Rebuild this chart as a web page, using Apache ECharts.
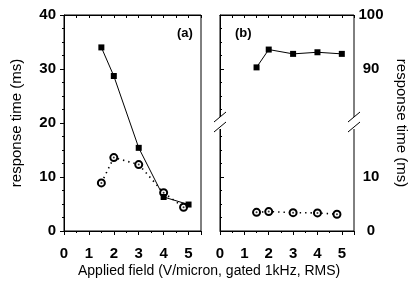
<!DOCTYPE html>
<html>
<head>
<meta charset="utf-8">
<script src="https://cdn.jsdelivr.net/npm/echarts@6/dist/echarts.min.js"></script>
<style>
  html, body { margin: 0; padding: 0; background: #fff; }
  #chart { width: 410px; height: 288px; }
</style>
</head>
<body>
<div id="chart"></div>
<script>
// data
const fieldA = [1.5, 2, 3, 4, 5]
const fieldA2 = [1.5, 2, 3, 4, 4.8]
const squaresA = [34, 28.7, 15.4, 6.3, 4.9]
const circlesA = [8.9, 13.6, 12.3, 7.1, 4.4]

const fieldB = [1.5, 2, 3, 4, 5]
const fieldB2 = [1.5, 2, 3, 4, 4.8]
const squaresB = [90.3, 93.6, 92.8, 93.1, 92.8]
const circlesB = [3.45, 3.6, 3.4, 3.35, 3.1]

const xTicks = [0, 1, 2, 3, 4, 5]
const yTicksA = [0, 10, 20, 30, 40]
const yTicksB = [0, 10, 90, 100]

// right panel has a broken axis: values above the break are shifted down by this much
const breakShift = 60
const breakAt = 20

const font = 'Liberation Sans, Arial, Helvetica, sans-serif'

const pair = (xs, ys, shift) => xs.map((x, i) => [x, ys[i] - (shift || 0)])

function bottomAxis(gridIndex) {
  return {
    type: 'value', gridIndex, position: 'bottom',
    min: 0, max: 5.5, interval: 1,
    axisLine: { show: true, lineStyle: { color: '#000', width: 1 } },
    axisTick: { show: true, length: 4, lineStyle: { color: '#000' } },
    minorTick: { show: true, splitNumber: 2, length: 2, lineStyle: { color: '#000' } },
    axisLabel: {
      color: '#000', fontSize: 15, fontWeight: 'bold', fontFamily: font, margin: 15,
      showMaxLabel: false,
      formatter: v => (xTicks.indexOf(v) >= 0 ? String(v) : '')
    },
    splitLine: { show: false }
  }
}

function topAxis(gridIndex) {
  return {
    type: 'value', gridIndex, position: 'top',
    min: 0, max: 5.5, interval: 1,
    axisLine: { show: true, lineStyle: { color: '#000', width: 1 } },
    axisTick: { show: true, inside: true, length: 3, lineStyle: { color: '#000' } },
    minorTick: { show: true, splitNumber: 2, length: 3, lineStyle: { color: '#000' } },
    axisLabel: { show: false },
    splitLine: { show: false }
  }
}

const squareSeries = (xi, yi, data) => ({
  type: 'line', xAxisIndex: xi, yAxisIndex: yi, data,
  symbol: 'rect', symbolSize: 6,
  itemStyle: { color: '#000' },
  lineStyle: { color: '#000', width: 1 },
  z: 3
})

const circleSeries = (xi, yi, data) => ({
  type: 'line', xAxisIndex: xi, yAxisIndex: yi, data,
  symbol: 'emptyCircle', symbolSize: 7, showAllSymbol: true,
  itemStyle: { color: '#000', borderColor: '#000', borderWidth: 0.9 },
  lineStyle: { color: '#000', width: 1.6, type: [1.4, 4] },
  z: 3
})

const dotSeries = (xi, yi, data) => ({
  type: 'scatter', xAxisIndex: xi, yAxisIndex: yi, data,
  symbol: 'circle', symbolSize: 2,
  itemStyle: { color: '#000' },
  z: 4
})

const option = {
  animation: false,
  backgroundColor: '#fff',
  grid: [
    { left: 64, width: 137, top: 15, height: 216, show: true, borderColor: '#000', borderWidth: 1, backgroundColor: 'transparent' },
    { left: 220, width: 135, top: 15, height: 216, show: true, borderColor: '#000', borderWidth: 1, backgroundColor: 'transparent' }
  ],
  xAxis: [bottomAxis(0), topAxis(0), bottomAxis(1), topAxis(1)],
  yAxis: [
    {
      type: 'value', gridIndex: 0, position: 'left',
      min: 0, max: 40, interval: 10,
      name: 'response time (ms)', nameLocation: 'middle', nameGap: 40,
      nameTextStyle: { color: '#000', fontSize: 15, fontFamily: font },
      axisLine: { show: true, lineStyle: { color: '#000' } },
      axisTick: { show: true, length: 4, lineStyle: { color: '#000' } },
      minorTick: { show: true, splitNumber: 4, length: 2, lineStyle: { color: '#000' } },
      axisLabel: {
        color: '#000', fontSize: 15, fontWeight: 'bold', fontFamily: font, margin: 8,
        formatter: v => (yTicksA.indexOf(v) >= 0 ? String(v) : '')
      },
      splitLine: { show: false }
    },
    {
      type: 'value', gridIndex: 1, position: 'right',
      min: 0, max: 40, interval: 10,
      name: 'response time (ms)', nameLocation: 'middle', nameGap: 40, nameRotate: -90,
      nameTextStyle: { color: '#000', fontSize: 15, fontFamily: font },
      axisLine: { show: true, lineStyle: { color: '#000' } },
      axisTick: { show: true, length: 4, lineStyle: { color: '#000' } },
      minorTick: { show: true, splitNumber: 4, length: 2, lineStyle: { color: '#000' } },
      axisLabel: {
        color: '#000', fontSize: 15, fontWeight: 'bold', fontFamily: font, margin: 17, align: 'center',
        formatter: v => {
          const real = v > breakAt ? v + breakShift : v
          return yTicksB.indexOf(real) >= 0 ? String(real) : ''
        }
      },
      splitLine: { show: false }
    }
  ],
  series: [
    circleSeries(0, 0, pair(fieldA2, circlesA)),
    dotSeries(0, 0, pair(fieldA2, circlesA)),
    squareSeries(0, 0, pair(fieldA, squaresA)),
    circleSeries(2, 1, pair(fieldB2, circlesB)),
    dotSeries(2, 1, pair(fieldB2, circlesB)),
    squareSeries(2, 1, pair(fieldB, squaresB, breakShift))
  ]
}

const chart = echarts.init(document.getElementById('chart'), null, { renderer: 'canvas' })
chart.setOption(option)

// panel labels, x title and the axis break marks
const by = chart.convertToPixel({ yAxisIndex: 1 }, breakAt)
const xl = chart.convertToPixel({ xAxisIndex: 2 }, 0)
const xr = chart.convertToPixel({ xAxisIndex: 2 }, 5.5)

function breakMark(x) {
  return [
    { type: 'rect', shape: { x: x - 4, y: by - 6, width: 8, height: 12 }, style: { fill: '#fff' }, z: 100 },
    { type: 'line', shape: { x1: x - 6, y1: by - 1, x2: x + 6, y2: by - 11 }, style: { stroke: '#000', lineWidth: 1 }, z: 101 },
    { type: 'line', shape: { x1: x - 6, y1: by + 9, x2: x + 6, y2: by - 1 }, style: { stroke: '#000', lineWidth: 1 }, z: 101 }
  ]
}

chart.setOption({
  graphic: [
    { type: 'text', left: 177, top: 27, style: { text: '(a)', font: 'bold 13px ' + font, fill: '#000' }, z: 10 },
    { type: 'text', left: 235, top: 27, style: { text: '(b)', font: 'bold 13px ' + font, fill: '#000' }, z: 10 },
    { type: 'text', left: 78, top: 264, style: { text: 'Applied field (V/micron, gated 1kHz, RMS)', font: '14px ' + font, fill: '#000' } },
    ...breakMark(xl),
    ...breakMark(xr)
  ]
})
</script>
</body>
</html>
